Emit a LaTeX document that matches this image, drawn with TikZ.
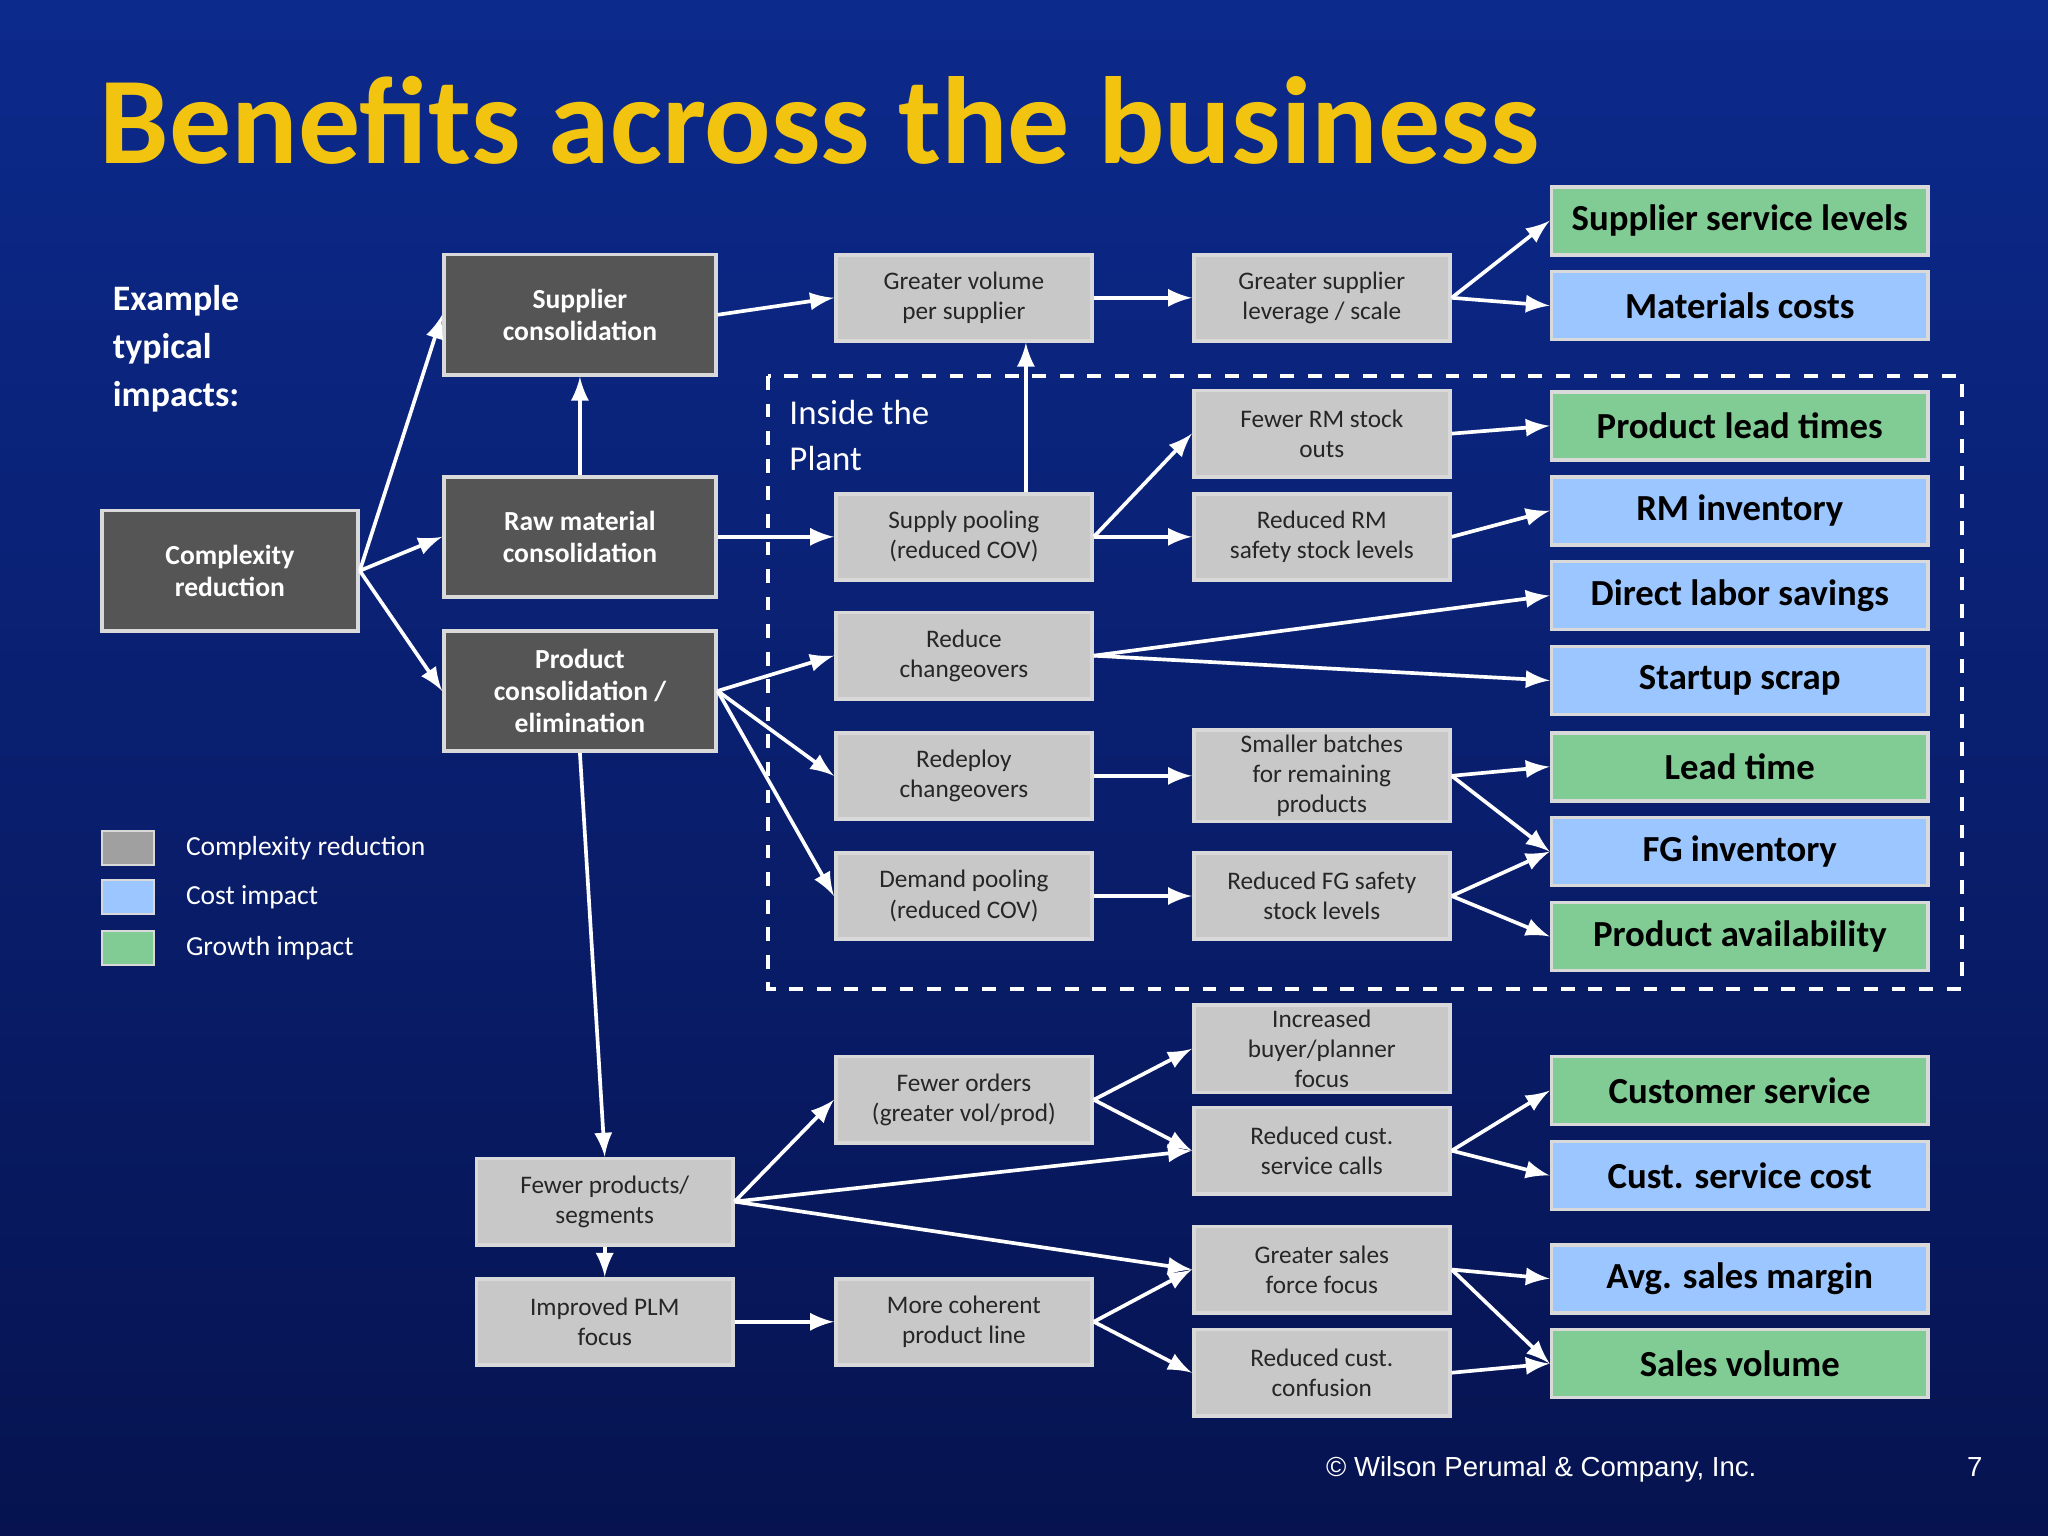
\documentclass[tikz,border=0pt]{standalone}
\usepackage{fontspec}
\setmainfont{Carlito}
\usetikzlibrary{shapes,arrows}
\usepackage{xcolor}
\definecolor{darkbox}{HTML}{555555}
\definecolor{greybox}{HTML}{C8C8C8}
\definecolor{greenbox}{HTML}{80CC94}
\definecolor{bluebox}{HTML}{9CC6FF}
\definecolor{titlegold}{HTML}{F2C40F}
\definecolor{bgtop}{HTML}{0C2A8C}
\definecolor{bgbottom}{HTML}{061350}
\begin{document}
\begin{tikzpicture}[x=0.01cm,y=-0.01cm,
					dark/.style={draw=white!85!black, thick, fill=darkbox, text=white, font=\fontsize{6}{7}\selectfont\bfseries, align=center, minimum width=2.08cm, minimum height=0.92cm, inner sep=1pt},
					grey/.style={draw=white!85!black, thick, fill=greybox, text=black!85, font=\fontsize{5.5}{6.6}\selectfont, align=center, minimum width=1.96cm, minimum height=0.66cm, inner sep=1pt},
					green/.style={draw=white!85!black, thick, fill=greenbox, text=black, font=\fontsize{8}{9}\selectfont\bfseries, minimum width=2.88cm, minimum height=0.52cm},
					blue/.style={green, fill=bluebox},
					link/.style={draw=white, thick, -latex}]
    % Place nodes
    \shade[top color=bgtop, bottom color=bgbottom] (0,0) rectangle (1568,1176);
    \useasboundingbox (0,0) rectangle (1568,1176);
    \node [anchor=west, text=titlegold, font=\fontsize{27}{30}\selectfont\bfseries] (title) at (64,92) {Benefits across the business};
    \node [anchor=north west, text=white, align=left, font=\fontsize{7.8}{10.5}\selectfont\bfseries] (ex) at (74,206) {Example\\typical\\impacts:};
    \draw[white, thick, dashed] (588,288) rectangle (1502,757);
    \node [anchor=north west, text=white, align=left, font=\fontsize{7.6}{10}\selectfont] (plant) at (592,294) {Inside the\\Plant};

    \node [dark, minimum width=1.96cm] (CR) at (176,437) {Complexity\\reduction};
    \node [dark] (SC) at (444,241) {Supplier\\consolidation};
    \node [dark] (RM) at (444,411) {Raw material\\consolidation};
    \node [dark] (PC) at (444,529) {Product\\consolidation /\\elimination};

    \node [grey] (GV) at (738,228) {Greater volume\\per supplier};
    \node [grey] (SP) at (738,411) {Supply pooling\\(reduced COV)};
    \node [grey] (RC) at (738,502) {Reduce\\changeovers};
    \node [grey] (RD) at (738,594) {Redeploy\\changeovers};
    \node [grey] (DP) at (738,686) {Demand pooling\\(reduced COV)};
    \node [grey] (FO) at (738,842) {Fewer orders\\(greater vol/prod)};
    \node [grey] (MC) at (738,1012) {More coherent\\product line};
    \node [grey] (GS) at (1012,228) {Greater supplier\\leverage / scale};
    \node [grey] (FR) at (1012,332) {Fewer RM stock\\outs};
    \node [grey] (RR) at (1012,411) {Reduced RM\\safety stock levels};
    \node [grey] (SB) at (1012,594) {Smaller batches\\for remaining\\products};
    \node [grey] (RF) at (1012,686) {Reduced FG safety\\stock levels};
    \node [grey] (IB) at (1012,803) {Increased\\buyer/planner\\focus};
    \node [grey] (SCC) at (1012,881) {Reduced cust.\\service calls};
    \node [grey] (GF) at (1012,972) {Greater sales\\force focus};
    \node [grey] (CC) at (1012,1051) {Reduced cust.\\confusion};
    \node [grey] (FP) at (463,920) {Fewer products/\\segments};
    \node [grey] (PLM) at (463,1012) {Improved PLM\\focus};

    \node [green] (SSL) at (1332,169) {Supplier service levels};
    \node [blue] (MAT) at (1332,234) {Materials costs};
    \node [green] (PLT) at (1332,326) {Product lead times};
    \node [blue] (RMI) at (1332,391) {RM inventory};
    \node [blue] (DLS) at (1332,456) {Direct labor savings};
    \node [blue] (SS) at (1332,521) {Startup scrap};
    \node [green] (LT) at (1332,587) {Lead time};
    \node [blue] (FGI) at (1332,652) {FG inventory};
    \node [green] (PA) at (1332,717) {Product availability};
    \node [green] (CS) at (1332,835) {Customer service};
    \node [blue] (CSC) at (1332,900) {Cust. service cost};
    \node [blue] (ASM) at (1332,979) {Avg. sales margin};
    \node [green] (SV) at (1332,1044) {Sales volume};

    % Legend
    \node [draw=white!85!black, fill=greybox!80!black, minimum width=0.4cm, minimum height=0.26cm] (L1) at (98,649) {};
    \node [draw=white!85!black, fill=bluebox, minimum width=0.4cm, minimum height=0.26cm] (L2) at (98,687) {};
    \node [draw=white!85!black, fill=greenbox, minimum width=0.4cm, minimum height=0.26cm] (L3) at (98,726) {};
    \node [anchor=west, text=white, font=\fontsize{6}{7}\selectfont] at (130,649) {Complexity reduction};
    \node [anchor=west, text=white, font=\fontsize{6}{7}\selectfont] at (130,687) {Cost impact};
    \node [anchor=west, text=white, font=\fontsize{6}{7}\selectfont] at (130,726) {Growth impact};
    \node [text=white, font=\fontsize{6}{7}\selectfont\sffamily] (copy) at (1180,1125) {\fontspec{Liberation Sans}\textcopyright{} Wilson Perumal \& Company, Inc.};
    \node [text=white, font=\fontsize{6}{7}\selectfont] (page) at (1512,1123) {\fontspec{Liberation Sans}7};

    % Draw edges
    \draw[link] (CR.east) -- (SC.west);
    \draw[link] (CR.east) -- (RM.west);
    \draw[link] (CR.east) -- (PC.west);
    \draw[link] (RM) -- (SC);
    \draw[link] (SC.east) -- (GV.west);
    \draw[link] (GV) -- (GS);
    \draw[link] (GS.east) -- (SSL.west);
    \draw[link] (GS.east) -- (MAT.west);
    \draw[link] (RM) -- (SP);
    \draw[link] (SP.north east) ++(-52,0) coordinate (sp1) -- (sp1 |- GV.south);
    \draw[link] (SP.east) -- (FR.west);
    \draw[link] (SP.east) -- (RR.west);
    \draw[link] (FR.east) -- (PLT.west);
    \draw[link] (RR.east) -- (RMI.west);
    \draw[link] (PC.east) -- (RC.west);
    \draw[link] (PC.east) -- (RD.west);
    \draw[link] (PC.east) -- (DP.west);
    \draw[link] (RC.east) -- (DLS.west);
    \draw[link] (RC.east) -- (SS.west);
    \draw[link] (RD) -- (SB);
    \draw[link] (SB.east) -- (LT.west);
    \draw[link] (SB.east) -- (FGI.west);
    \draw[link] (DP) -- (RF);
    \draw[link] (RF.east) -- (FGI.west);
    \draw[link] (RF.east) -- (PA.west);
    \draw[link] (PC.south) -- (FP.north);
    \draw[link] (FP) -- (PLM);
    \draw[link] (FP.east) -- (FO.west);
    \draw[link] (FP.east) -- (SCC.west);
    \draw[link] (FP.east) -- (GF.west);
    \draw[link] (FO.east) -- (IB.west);
    \draw[link] (FO.east) -- (SCC.west);
    \draw[link] (SCC.east) -- (CS.west);
    \draw[link] (SCC.east) -- (CSC.west);
    \draw[link] (PLM) -- (MC);
    \draw[link] (MC.east) -- (GF.west);
    \draw[link] (MC.east) -- (CC.west);
    \draw[link] (GF.east) -- (ASM.west);
    \draw[link] (GF.east) -- (SV.west);
    \draw[link] (CC.east) -- (SV.west);
\end{tikzpicture}
\end{document}
